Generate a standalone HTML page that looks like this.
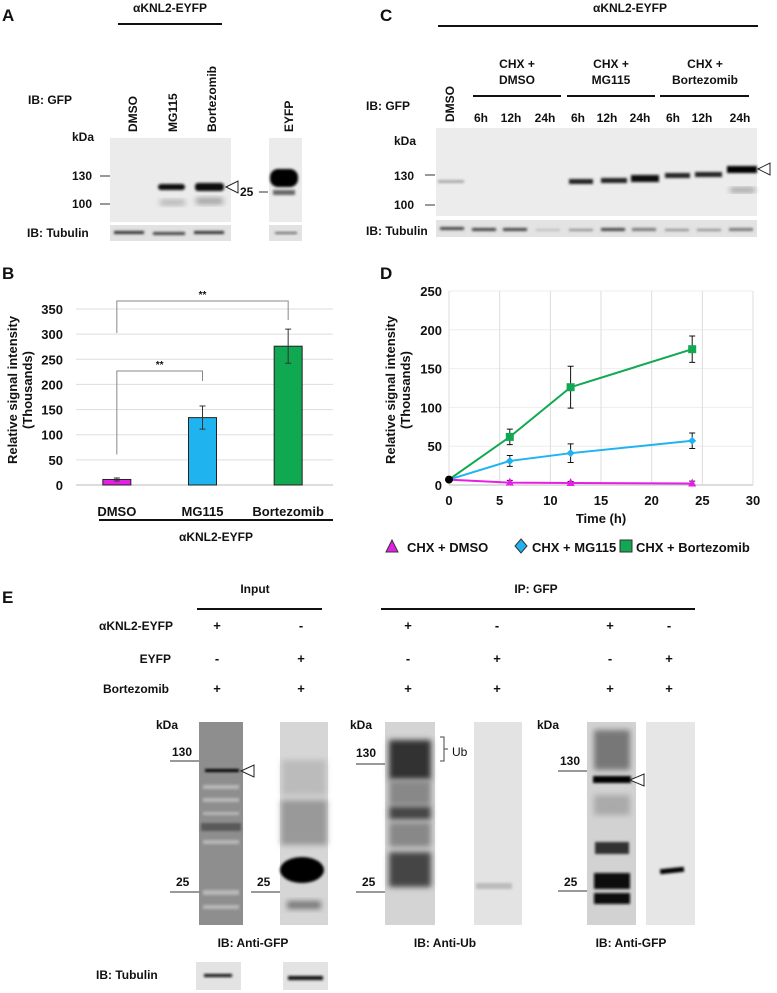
<!DOCTYPE html>
<html><head><meta charset="utf-8"><style>
body{margin:0;background:#fff;}
svg{display:block;font-family:"Liberation Sans",Arial,sans-serif;font-weight:bold;}
text{fill:#111;}
</style></head><body>
<svg id="fig" width="777" height="993" viewBox="0 0 777 993">
<defs>
<filter id="bl1" x="-20%" y="-80%" width="140%" height="260%"><feGaussianBlur stdDeviation="1.2"/></filter>
<filter id="bl2" x="-20%" y="-50%" width="140%" height="200%"><feGaussianBlur stdDeviation="3"/></filter>
</defs>

<!-- Panel A -->
<g>
<text x="2" y="21" font-size="17">A</text>
<text x="170" y="12" font-size="12" text-anchor="middle">αKNL2-EYFP</text>
<line x1="118" y1="24" x2="222" y2="24" stroke="#111" stroke-width="2"/>
<text x="28" y="104" font-size="12">IB: GFP</text>
<text transform="translate(137,132) rotate(-90)" font-size="12">DMSO</text>
<text transform="translate(177,132) rotate(-90)" font-size="12">MG115</text>
<text transform="translate(216,132) rotate(-90)" font-size="12">Bortezomib</text>
<text transform="translate(293,132) rotate(-90)" font-size="12">EYFP</text>
<text x="72" y="141" font-size="12">kDa</text>
<rect x="110" y="138" width="121" height="84" fill="#ebebeb"/>
<text x="72" y="180" font-size="12">130</text><line x1="100" y1="176" x2="110" y2="176" stroke="#333"/>
<text x="72" y="208" font-size="12">100</text><line x1="100" y1="204" x2="110" y2="204" stroke="#333"/>
<rect x="158" y="184" width="27" height="6" rx="3" fill="#111" filter="url(#bl1)"/>
<rect x="195" y="183" width="29" height="8" rx="3" fill="#111" filter="url(#bl1)"/>
<rect x="160" y="200" width="25" height="5" fill="#aaa" filter="url(#bl2)"/>
<rect x="196" y="198" width="27" height="6" fill="#999" filter="url(#bl2)"/>
<polygon points="226,187 238,181 238,193" fill="#fff" stroke="#222"/>
<text x="240" y="196" font-size="12">25</text><line x1="259" y1="192" x2="268" y2="192" stroke="#333"/>
<rect x="269" y="138" width="33" height="84" fill="#ebebeb"/>
<rect x="270" y="169" width="28" height="18" rx="8" fill="#000" filter="url(#bl1)"/>
<rect x="273" y="190" width="22" height="5" fill="#666" filter="url(#bl1)"/>
<text x="27" y="237" font-size="12">IB: Tubulin</text>
<rect x="110" y="225" width="121" height="16" fill="#e2e2e2"/>
<rect x="269" y="225" width="33" height="16" fill="#e2e2e2"/>
<rect x="114" y="231" width="30" height="3" fill="#333" filter="url(#bl1)"/>
<rect x="153" y="232" width="32" height="3" fill="#444" filter="url(#bl1)"/>
<rect x="194" y="231" width="30" height="3" fill="#333" filter="url(#bl1)"/>
<rect x="275" y="232" width="22" height="2" fill="#666" filter="url(#bl1)"/>
</g>

<!-- Panel C -->
<g>
<text x="380" y="21" font-size="17">C</text>
<text x="630" y="12" font-size="12" text-anchor="middle">αKNL2-EYFP</text>
<line x1="438" y1="26" x2="758" y2="26" stroke="#111" stroke-width="2"/>
<g font-size="12" text-anchor="middle">
<text x="517" y="68">CHX +</text><text x="517" y="84">DMSO</text>
<text x="611" y="68">CHX +</text><text x="611" y="84">MG115</text>
<text x="705" y="68">CHX +</text><text x="705" y="84">Bortezomib</text>
<text x="481" y="122">6h</text><text x="511" y="122">12h</text><text x="545" y="122">24h</text>
<text x="578" y="122">6h</text><text x="607" y="122">12h</text><text x="640" y="122">24h</text>
<text x="673" y="122">6h</text><text x="702" y="122">12h</text><text x="740" y="122">24h</text>
</g>
<line x1="473" y1="96" x2="561" y2="96" stroke="#111" stroke-width="2"/>
<line x1="567" y1="96" x2="655" y2="96" stroke="#111" stroke-width="2"/>
<line x1="660" y1="96" x2="749" y2="96" stroke="#111" stroke-width="2"/>
<text transform="translate(454,122) rotate(-90)" font-size="12">DMSO</text>
<text x="366" y="110" font-size="12">IB: GFP</text>
<text x="394" y="145" font-size="12">kDa</text>
<rect x="436" y="128" width="321" height="88" fill="#ececec"/>
<text x="394" y="180" font-size="12">130</text><line x1="425" y1="175" x2="435" y2="175" stroke="#333"/>
<text x="394" y="209" font-size="12">100</text><line x1="425" y1="205" x2="435" y2="205" stroke="#333"/>
<rect x="438" y="180" width="26" height="3" fill="#aaa" filter="url(#bl1)"/>
<rect x="569" y="179" width="24" height="5" fill="#222" filter="url(#bl1)"/>
<rect x="601" y="178" width="26" height="5" fill="#222" filter="url(#bl1)"/>
<rect x="631" y="175" width="28" height="7" fill="#111" filter="url(#bl1)"/>
<rect x="665" y="173" width="25" height="5" fill="#222" filter="url(#bl1)"/>
<rect x="695" y="172" width="27" height="5" fill="#222" filter="url(#bl1)"/>
<rect x="727" y="166" width="30" height="7" fill="#000" filter="url(#bl1)"/>
<rect x="730" y="188" width="25" height="4" fill="#888" filter="url(#bl2)"/>
<polygon points="758,169 770,163 770,175" fill="#fff" stroke="#222"/>
<text x="366" y="235" font-size="12">IB: Tubulin</text>
<rect x="436" y="220" width="321" height="17" fill="#e3e3e3"/>
<g fill="#444" filter="url(#bl1)">
<rect x="440" y="227" width="24" height="3"/><rect x="472" y="228" width="24" height="3"/><rect x="503" y="228" width="24" height="3"/>
<rect x="536" y="229" width="24" height="2" fill="#bbb"/><rect x="569" y="229" width="24" height="2" fill="#888"/><rect x="601" y="228" width="24" height="3"/>
<rect x="632" y="228" width="24" height="3" fill="#777"/><rect x="665" y="229" width="24" height="2" fill="#888"/><rect x="697" y="229" width="24" height="2" fill="#888"/><rect x="729" y="228" width="24" height="3" fill="#777"/>
</g>
</g>

<!-- Panel B chart -->
<g id="chartB">
<text x="2" y="279" font-size="17">B</text>
</g>

<!-- Panel D chart -->
<g id="chartD">
<text x="380" y="279" font-size="17">D</text>
</g>

<!-- Panel E -->
<g>
<text x="2" y="603" font-size="17">E</text>
<text x="255" y="593" font-size="12" text-anchor="middle">Input</text>
<line x1="197" y1="609" x2="322" y2="609" stroke="#111" stroke-width="2"/>
<text x="536" y="593" font-size="12" text-anchor="middle">IP: GFP</text>
<line x1="381" y1="609" x2="695" y2="609" stroke="#111" stroke-width="2"/>
<g font-size="12" text-anchor="end">
<text x="173" y="630">αKNL2-EYFP</text><text x="171" y="663">EYFP</text><text x="169" y="693">Bortezomib</text>
</g>
<g font-size="13" text-anchor="middle">
<text x="217" y="630">+</text><text x="301" y="630">-</text><text x="408" y="630">+</text><text x="497" y="630">-</text><text x="610" y="630">+</text><text x="669" y="630">-</text>
<text x="217" y="663">-</text><text x="301" y="663">+</text><text x="408" y="663">-</text><text x="497" y="663">+</text><text x="610" y="663">-</text><text x="669" y="663">+</text>
<text x="217" y="693">+</text><text x="301" y="693">+</text><text x="408" y="693">+</text><text x="497" y="693">+</text><text x="610" y="693">+</text><text x="669" y="693">+</text>
</g>
<g font-size="12">
<text x="156" y="729">kDa</text><text x="172" y="756">130</text><text x="176" y="886">25</text><text x="257" y="886">25</text>
<text x="350" y="729">kDa</text><text x="356" y="757">130</text><text x="362" y="886">25</text>
<text x="537" y="729">kDa</text><text x="560" y="765">130</text><text x="564" y="886">25</text>
</g>
<g stroke="#333">
<line x1="170" y1="761" x2="200" y2="761"/><line x1="170" y1="892" x2="200" y2="892"/><line x1="251" y1="892" x2="280" y2="892"/>
<line x1="356" y1="764" x2="385" y2="764"/><line x1="356" y1="892" x2="385" y2="892"/>
<line x1="558" y1="771" x2="587" y2="771"/><line x1="558" y1="891" x2="587" y2="891"/>
</g>
<rect x="199" y="722" width="44" height="203" fill="#8e8e8e"/>
<g fill="#b8b8b8" filter="url(#bl1)">
<rect x="203" y="785" width="36" height="4"/><rect x="203" y="798" width="36" height="4"/><rect x="203" y="812" width="36" height="3"/><rect x="203" y="840" width="36" height="4"/><rect x="203" y="890" width="36" height="5"/><rect x="203" y="905" width="36" height="4"/>
</g>
<rect x="201" y="823" width="40" height="8" fill="#5a5a5a" filter="url(#bl1)"/>
<rect x="205" y="769" width="34" height="3" fill="#000" filter="url(#bl1)"/>
<polygon points="241,771 254,765 254,777" fill="#fff" stroke="#222"/>
<rect x="280" y="722" width="48" height="203" fill="#d6d6d6"/>
<rect x="282" y="760" width="44" height="35" fill="#bbb" filter="url(#bl2)"/>
<rect x="281" y="800" width="46" height="45" fill="#999" filter="url(#bl2)"/>
<ellipse cx="302" cy="870" rx="22" ry="13" fill="#000" filter="url(#bl1)"/>
<rect x="287" y="901" width="34" height="8" fill="#777" filter="url(#bl2)"/>
<rect x="385" y="722" width="50" height="203" fill="#d4d4d4"/>
<rect x="389" y="740" width="42" height="40" fill="#333" filter="url(#bl2)"/>
<rect x="389" y="780" width="42" height="25" fill="#888" filter="url(#bl2)"/>
<rect x="389" y="806" width="42" height="14" fill="#444" filter="url(#bl2)"/>
<rect x="389" y="822" width="42" height="25" fill="#888" filter="url(#bl2)"/>
<rect x="389" y="852" width="42" height="35" fill="#444" filter="url(#bl2)"/>
<rect x="474" y="722" width="48" height="203" fill="#e3e3e3"/>
<rect x="476" y="883" width="36" height="6" fill="#bbb" filter="url(#bl1)"/>
<path d="M440,737 h4 v12 h4 M444,749 v12 h-4" stroke="#444" fill="none"/>
<text x="452" y="756" font-size="12" font-weight="normal">Ub</text>
<rect x="587" y="722" width="49" height="203" fill="#d2d2d2"/>
<rect x="594" y="730" width="36" height="40" fill="#777" filter="url(#bl2)"/>
<rect x="593" y="776" width="38" height="7" fill="#000" filter="url(#bl1)"/>
<rect x="594" y="795" width="36" height="20" fill="#aaa" filter="url(#bl2)"/>
<rect x="595" y="842" width="34" height="12" fill="#333" filter="url(#bl1)"/>
<rect x="594" y="873" width="36" height="16" fill="#111" filter="url(#bl1)"/>
<rect x="594" y="893" width="36" height="11" fill="#111" filter="url(#bl1)"/>
<polygon points="630,780 644,774 644,786" fill="#fff" stroke="#222"/>
<rect x="646" y="722" width="49" height="203" fill="#e6e6e6"/>
<rect x="660" y="868" width="24" height="5" fill="#000" transform="rotate(-6 672 870)" filter="url(#bl1)"/>
<g font-size="12" text-anchor="middle">
<text x="253" y="947">IB: Anti-GFP</text><text x="445" y="947">IB: Anti-Ub</text><text x="631" y="947">IB: Anti-GFP</text>
</g>
<text x="96" y="979" font-size="12">IB: Tubulin</text>
<rect x="196" y="962" width="45" height="28" fill="#e3e3e3"/>
<rect x="283" y="962" width="45" height="28" fill="#e3e3e3"/>
<rect x="204" y="974" width="28" height="3" fill="#111" filter="url(#bl1)"/>
<rect x="288" y="976" width="35" height="4" fill="#111" filter="url(#bl1)"/>
</g>
</svg>

<script>
// ---------- Panel B data ----------
const bCategories = ["DMSO", "MG115", "Bortezomib"];
const bValues = [11, 134, 276];
const bErrors = [3, 23, 34];
const bColors = ["#e61fe6", "#1fb4f0", "#10a850"];
const bTicks = [0, 50, 100, 150, 200, 250, 300, 350];

// ---------- Panel D data ----------
const dTimes = [0, 6, 12, 24];
const dDMSO = [7, 3, 2.5, 2];
const dDMSOErr = [0, 3, 2, 3];
const dMG115 = [7, 31, 41, 57];
const dMG115Err = [0, 7, 12, 10];
const dBort = [7, 62, 126, 175];
const dBortErr = [0, 10, 27, 17];
const dXTicks = [0, 5, 10, 15, 20, 25, 30];
const dYTicks = [0, 50, 100, 150, 200, 250];

const NS = "http://www.w3.org/2000/svg";
function mk(parent, tag, attrs, txt) {
  const e = document.createElementNS(NS, tag);
  for (const k in attrs) e.setAttribute(k, attrs[k]);
  if (txt !== undefined) e.textContent = txt;
  parent.appendChild(e);
  return e;
}

// Panel B
(function () {
  const g = document.getElementById("chartB");
  const x0 = 76, x1 = 333, y0 = 485, yTop = 309, vmax = 350;
  const ys = v => y0 - (v / vmax) * (y0 - yTop);
  const band = (x1 - x0) / bCategories.length;
  const xc = i => x0 + band * (i + 0.5) - 2;
  bTicks.forEach(t => {
    const l = mk(g, "line", {x1: x0, x2: x1, y1: ys(t), y2: ys(t), stroke: t === 0 ? "#bbb" : "#ddd"});
    
    
    const tx = mk(g, "text", {x: 63, y: ys(t) + 5, "font-size": 13, "text-anchor": "end"}, t);
    
    
  });
  bCategories.forEach((c, i) => {
    const r = mk(g, "rect", {x: xc(i) - 14, y: ys(bValues[i]), width: 28, height: y0 - ys(bValues[i]), fill: bColors[i], stroke: "#222", "stroke-width": 1});
    
    
    const eb = mk(g, "path", {d: `M${xc(i)},${ys(bValues[i] + bErrors[i])}V${ys(bValues[i] - bErrors[i])}M${xc(i) - 3},${ys(bValues[i] + bErrors[i])}h6M${xc(i) - 3},${ys(bValues[i] - bErrors[i])}h6`, stroke: "#333", fill: "none"});
    
    
    const lb = mk(g, "text", {x: xc(i), y: 516, "font-size": 13, "text-anchor": "middle"}, c);
    
    
  });
  const yt = mk(g, "text", {transform: "translate(17,390) rotate(-90)", "font-size": 13, "text-anchor": "middle"}, "Relative signal intensity");
  
  
  const yt2 = mk(g, "text", {transform: "translate(32,390) rotate(-90)", "font-size": 13, "text-anchor": "middle"}, "(Thousands)");
  
  
  mk(g, "line", {x1: 99, x2: 333, y1: 520, y2: 520, stroke: "#111", "stroke-width": 2});
  const cap = mk(g, "text", {x: 216, y: 541, "font-size": 12, "text-anchor": "middle"}, "αKNL2-EYFP");
  
  
  mk(g, "path", {d: `M${xc(0)},333V301H${xc(2)}V320`, stroke: "#888", fill: "none"});
  mk(g, "text", {x: (xc(0) + xc(2)) / 2, y: 298, "font-size": 10, "text-anchor": "middle"}, "**");
  mk(g, "path", {d: `M${xc(0)},${ys(bValues[0]) - 25}V371H${xc(1)}V381`, stroke: "#888", fill: "none"});
  mk(g, "text", {x: (xc(0) + xc(1)) / 2, y: 368, "font-size": 10, "text-anchor": "middle"}, "**");
})();

// Panel D
(function () {
  const g = document.getElementById("chartD");
  const x0 = 449, x1 = 753, y0 = 485, yTop = 291;
  const xs = t => x0 + (t / 30) * (x1 - x0);
  const ys = v => y0 - (v / 250) * (y0 - yTop);
  dYTicks.forEach(t => {
    mk(g, "line", {x1: x0, x2: x1, y1: ys(t), y2: ys(t), stroke: t === 0 ? "#bbb" : "#eee"});
    const tx = mk(g, "text", {x: 442, y: ys(t) + 5, "font-size": 13, "text-anchor": "end"}, t);
    
    
  });
  dXTicks.forEach(t => {
    mk(g, "line", {x1: xs(t), x2: xs(t), y1: yTop, y2: y0, stroke: "#ddd"});
    const tx = mk(g, "text", {x: xs(t), y: 505, "font-size": 13, "text-anchor": "middle"}, t);
    
    
  });
  const series = [
    {name: "dmso", vals: dDMSO, err: dDMSOErr, color: "#e61fe6", marker: "tri"},
    {name: "mg115", vals: dMG115, err: dMG115Err, color: "#1fb4f0", marker: "dia"},
    {name: "bortezomib", vals: dBort, err: dBortErr, color: "#10a850", marker: "sq"}
  ];
  series.forEach(s => {
    const pts = dTimes.map((t, i) => xs(t) + "," + ys(s.vals[i])).join(" ");
    const pl = mk(g, "polyline", {points: pts, fill: "none", stroke: s.color, "stroke-width": 2});
    
    
    dTimes.forEach((t, i) => {
      if (i === 0) return;
      const x = xs(t), v = s.vals[i], e = s.err[i];
      mk(g, "path", {d: `M${x},${ys(v + e)}V${ys(v - e)}M${x - 3},${ys(v + e)}h6M${x - 3},${ys(v - e)}h6`, stroke: "#111", fill: "none"});
      let m;
      const y = ys(v);
      if (s.marker === "tri") m = mk(g, "polygon", {points: `${x},${y - 5} ${x - 4},${y + 3} ${x + 4},${y + 3}`, fill: s.color});
      else if (s.marker === "dia") m = mk(g, "polygon", {points: `${x},${y - 4} ${x + 4},${y} ${x},${y + 4} ${x - 4},${y}`, fill: s.color});
      else m = mk(g, "rect", {x: x - 4, y: y - 4, width: 8, height: 8, fill: s.color});
      
      
    });
  });
  const c0 = mk(g, "circle", {cx: xs(dTimes[0]), cy: ys(dDMSO[0]), r: 4, fill: "#000"});
  
  
  const yt = mk(g, "text", {transform: "translate(395,390) rotate(-90)", "font-size": 13, "text-anchor": "middle"}, "Relative signal intensity");
  
  
  mk(g, "text", {transform: "translate(410,390) rotate(-90)", "font-size": 13, "text-anchor": "middle"}, "(Thousands)");
  const xt = mk(g, "text", {x: 601, y: 523, "font-size": 13, "text-anchor": "middle"}, "Time (h)");
  
  
  const lg = mk(g, "g", {});
  
  
  mk(lg, "polygon", {points: "392,540 386,552 398,552", fill: "#e61fe6", stroke: "#333"});
  mk(lg, "text", {x: 407, y: 552, "font-size": 13}, "CHX + DMSO");
  mk(lg, "polygon", {points: "521,539 527,546 521,553 515,546", fill: "#1fb4f0", stroke: "#333"});
  mk(lg, "text", {x: 532, y: 552, "font-size": 13}, "CHX + MG115");
  mk(lg, "rect", {x: 620, y: 540, width: 12, height: 12, fill: "#10a850", stroke: "#333"});
  mk(lg, "text", {x: 636, y: 552, "font-size": 13}, "CHX + Bortezomib");
})();
</script>
</body></html>
